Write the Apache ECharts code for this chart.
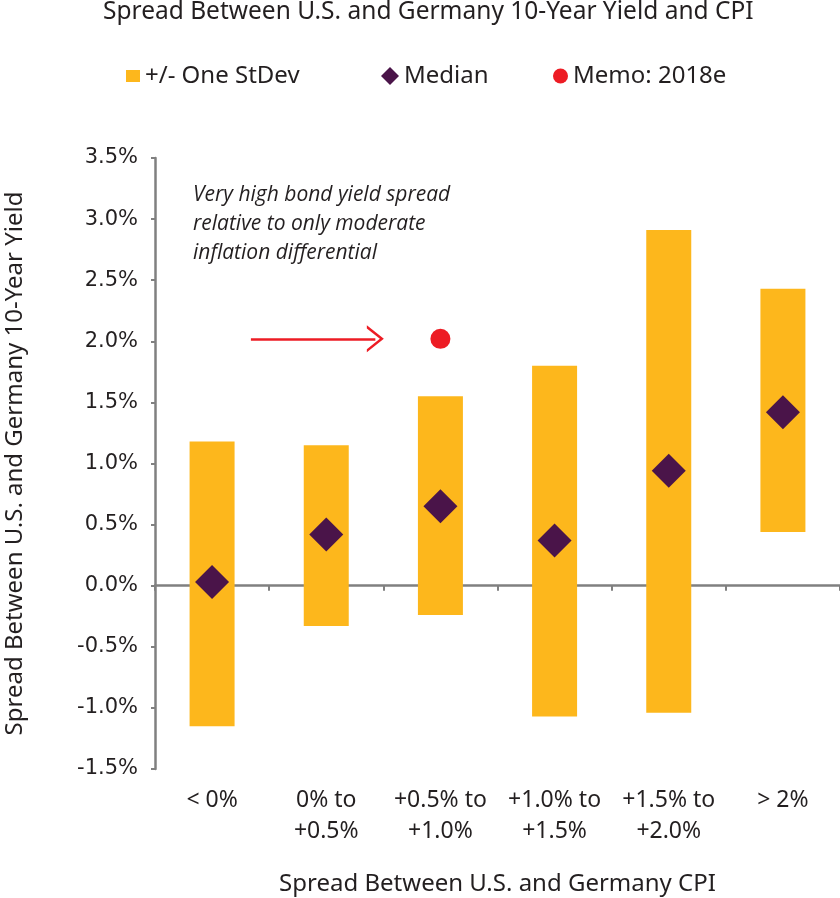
<!DOCTYPE html>
<html>
<head>
<meta charset="utf-8">
<script src="https://cdn.jsdelivr.net/npm/echarts@6/dist/echarts.min.js"></script>
<style>
  html, body { margin: 0; padding: 0; background: #ffffff; }
  #chart { width: 840px; height: 898px; }
</style>
</head>
<body>
<div id="chart"></div>
<script>
// ---- data ----
const categories = ['< 0%', '0% to\n+0.5%', '+0.5% to\n+1.0%', '+1.0% to\n+1.5%', '+1.5% to\n+2.0%', '> 2%'];
const stdevLow  = [-1.15, -0.33, -0.24, -1.07, -1.04, 0.44];
const stdevHigh = [1.18, 1.15, 1.55, 1.80, 2.91, 2.43];
const median    = [0.03, 0.42, 0.65, 0.37, 0.94, 1.42];
const memo2018e = [null, null, 2.02, null, null, null];
const yMin = -1.5, yMax = 3.5, yStep = 0.5;
// annotation arrow (x in category-index units, y in %)
const arrowFrom = [0.34, 2.02];
const arrowTo   = [1.43, 2.02];
const noteText = 'Very high bond yield spread\nrelative to only moderate\ninflation differential';

const DIN = '"Noto Sans", Roboto, sans-serif';
const TXT = '#231F20';
const AXIS = '#808080';

const chart = echarts.init(document.getElementById('chart'), null, { renderer: 'canvas' });

const option = {
  backgroundColor: '#ffffff',
  animation: false,
  title: [
    {
      text: 'Spread Between U.S. and Germany 10-Year Yield and CPI',
      left: 98, top: -5,
      textStyle: { fontFamily: DIN, fontSize: 24.5, fontWeight: 'normal', color: TXT }
    },
    {
      text: noteText,
      left: 188, top: 176,
      textStyle: { fontFamily: '"Open Sans", sans-serif', fontStyle: 'italic', fontSize: 21, fontWeight: 'normal', color: TXT, lineHeight: 29 }
    }
  ],
  legend: [
    {
      data: [{ name: '+/- One StDev', icon: 'rect' }],
      left: 126, top: 64, padding: 0, itemWidth: 14, itemHeight: 12, selectedMode: false,
      textStyle: { fontFamily: DIN, fontSize: 24, color: TXT }
    },
    {
      data: [{ name: 'Median', icon: 'diamond' }],
      left: 381, top: 64, padding: 0, itemWidth: 18, itemHeight: 18, selectedMode: false,
      textStyle: { fontFamily: DIN, fontSize: 24, color: TXT }
    },
    {
      data: [{ name: 'Memo: 2018e', icon: 'circle' }],
      left: 553, top: 64, padding: 0, itemWidth: 15, itemHeight: 15, selectedMode: false,
      textStyle: { fontFamily: DIN, fontSize: 24, color: TXT }
    }
  ],
  grid: { left: 155, right: 0, top: 158, bottom: 129, containLabel: false, outerBoundsMode: 'none' },
  xAxis: [
    {
      type: 'category', data: categories, position: 'bottom', boundaryGap: true,
      axisLine: { show: true, onZero: true, lineStyle: { color: AXIS, width: 2.5 } },
      axisTick: { show: true, length: 5, lineStyle: { color: AXIS, width: 2 } },
      axisLabel: { show: false },
      splitLine: { show: false }
    },
    {
      type: 'category', data: categories, position: 'bottom', offset: 0, boundaryGap: true,
      axisLine: { show: false, onZero: false },
      axisTick: { show: false },
      axisLabel: { show: true, interval: 0, margin: 16, fontFamily: DIN, fontSize: 23, color: TXT, lineHeight: 31 },
      splitLine: { show: false },
      name: 'Spread Between U.S. and Germany CPI', nameLocation: 'middle', nameGap: 103,
      nameTextStyle: { fontFamily: DIN, fontSize: 24, color: TXT }
    },
    {
      type: 'value', min: -0.5, max: 5.5, position: 'top', show: false
    }
  ],
  yAxis: {
    type: 'value', min: yMin, max: yMax, interval: yStep,
    axisLine: { show: true, onZero: false, lineStyle: { color: AXIS, width: 2.5 } },
    axisTick: { show: true, length: 4, lineStyle: { color: AXIS, width: 2 } },
    splitLine: { show: false },
    axisLabel: {
      margin: 17, fontFamily: '"DejaVu Sans", sans-serif', fontSize: 21, color: TXT,
      formatter: v => v.toFixed(1) + '%'
    },
    name: 'Spread Between U.S. and Germany 10-Year Yield', nameLocation: 'middle', nameGap: 128,
    nameTextStyle: { fontFamily: DIN, fontSize: 24, color: TXT }
  },
  series: [
    {
      name: '+/- One StDev', type: 'custom', xAxisIndex: 0, yAxisIndex: 0,
      itemStyle: { color: '#FDB71C' },
      encode: { x: 0, y: [1, 2] },
      data: categories.map((c, i) => [i, stdevLow[i], stdevHigh[i]]),
      renderItem: function (params, api) {
        const lo = api.coord([api.value(0), api.value(1)]);
        const hi = api.coord([api.value(0), api.value(2)]);
        const w = 45;
        return {
          type: 'rect',
          shape: { x: lo[0] - w / 2, y: hi[1], width: w, height: lo[1] - hi[1] },
          style: { fill: '#FDB71C' }
        };
      },
      z: 1
    },
    {
      name: 'Median', type: 'scatter', xAxisIndex: 0, yAxisIndex: 0,
      symbol: 'diamond', symbolSize: 34,
      itemStyle: { color: '#4A1449', opacity: 1 },
      data: median, z: 3
    },
    {
      name: 'Memo: 2018e', type: 'scatter', xAxisIndex: 0, yAxisIndex: 0,
      symbol: 'circle', symbolSize: 20,
      itemStyle: { color: '#ED1C24', opacity: 1 },
      data: memo2018e, z: 3
    },
    {
      name: 'arrow', type: 'line', xAxisIndex: 2, yAxisIndex: 0,
      data: [], silent: true,
      markLine: {
        silent: true, animation: false,
        symbol: ['none', 'path://M0,17 L13.5,0 L27,17 L23.8,17 L13.5,4 L3.2,17 Z'],
        symbolSize: [27, 17],
        lineStyle: { color: '#ED1C24', width: 2.5, type: 'solid' },
        label: { show: false },
        emphasis: { disabled: true },
        data: [[{ coord: arrowFrom }, { coord: arrowTo }]]
      }
    }
  ]
};

chart.setOption(option);
</script>
</body>
</html>
